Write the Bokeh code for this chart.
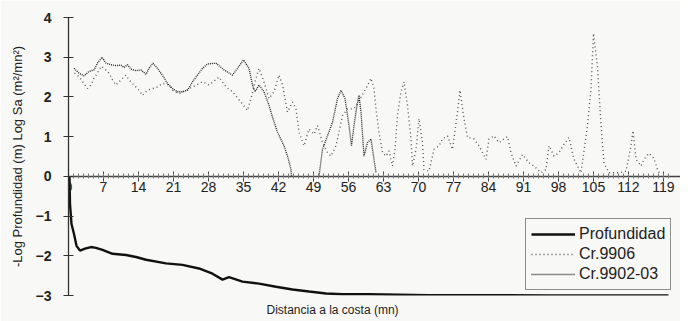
from bokeh.plotting import figure
from bokeh.models import Range1d, Legend, LegendItem, Title, FixedTicker
from bokeh.embed import file_html
from bokeh.resources import INLINE

nan = float("nan")

# Profundidad (-log depth)
dist_prof = [0.2, 0.3, 0.6, 1.1, 1.6, 2.3, 3.3, 4.5, 5.5, 6.8, 8.8, 11.5, 13.5, 15.5, 19.5,
             22.8, 26.1, 28.8, 30.8, 32.1, 34.8, 38.1, 41.5, 44.8, 48.1, 51.5, 54.8, 60.0,
             66.0, 72.0, 84.0, 96.0, 108.0, 120.0]
prof = [0.0, -0.7, -1.2, -1.45, -1.75, -1.87, -1.82, -1.78, -1.8, -1.85, -1.95, -1.98, -2.03,
        -2.1, -2.19, -2.23, -2.32, -2.45, -2.6, -2.54, -2.65, -2.7, -2.78, -2.85, -2.9, -2.95,
        -2.97, -2.97, -2.98, -2.99, -2.99, -3.0, -3.0, -3.0]

# Cr.9906 (Log Sa)
dist_9906 = [1.2, 2.2, 3.0, 3.8, 4.5, 5.1, 5.8, 6.5, 7.1, 8.1, 8.8, 9.5, 10.5, 11.5, 12.1, 13.1,
             14.1, 14.8, 15.8, 16.8, 17.8, 18.8, 20.1, 21.0, 22.1, 23.3, 24.8, 26.8, 28.1, 30.1,
             31.5, 32.8, 34.5, 35.8, 36.5, 37.5, 38.1, 39.1, 40.1, 41.1, 42.1, 42.8, 43.8, 44.8,
             45.5, 46.1, 47.1, 48.1, 49.1, 49.8, 50.8, 51.8, 52.5, 53.5, 54.8, 55.8, 57.1, 58.3,
             59.5, 60.5, 61.1, 61.5, 62.1, 62.8, 63.5, 64.1, 64.8, 65.3, 65.8, 66.5, 67.1, 67.8,
             68.5, 68.8, 69.5, 70.1, 70.8, 71.1, 72.1, 73.1, 74.1, 74.8, 75.8, 76.8, 77.8, 78.3,
             79.1, 79.8, 81.1, 82.1, 83.5, 84.1, 85.1, 86.1, 87.8, 88.5, 89.5, 90.8, 92.1, 93.1,
             94.5, 95.5, 96.1, 97.1, 98.1, 99.1, 100.1, 101.1, 102.5, 103.8, 104.5, 105.0, 105.8,
             106.5, 107.1, 108.1, 110.1, 111.5, 112.5, 112.9, 113.5, 114.5, 115.1, 116.1, 117.1,
             117.8, 118.3]
sa_9906 = [2.6, 2.5, 2.35, 2.21, 2.3, 2.47, 2.6, 2.77, 2.72, 2.6, 2.43, 2.3, 2.43, 2.55, 2.43,
           2.3, 2.17, 2.04, 2.17, 2.21, 2.25, 2.34, 2.3, 2.15, 2.08, 2.15, 2.25, 2.38, 2.3, 2.5,
           2.25, 2.13, 1.87, 1.66, 1.96, 2.47, 2.72, 2.38, 1.96, 2.13, 2.55, 2.3, 1.62, 1.87,
           1.7, 1.11, 0.77, 1.19, 1.06, 1.28, 0.85, 0.6, 0.51, 0.77, 1.53, 1.7, 1.7, 1.95,
           2.21, 2.47, 2.21, 1.7, 1.11, 0.6, 0.51, 0.64, 0.26, 0.68, 1.53, 2.13, 2.38, 1.79,
           0.94, 0.26, 0.68, 1.45, 0.85, 0.17, 0.13, 0.68, 0.77, 0.94, 1.02, 0.68, 1.62, 2.17,
           1.45, 0.98, 0.94, 0.77, 0.43, 0.94, 1.02, 0.85, 1.0, 0.6, 0.26, 0.55, 0.34, 0.26,
           0.09, 0.17, 0.77, 0.51, 0.6, 0.81, 0.98, 0.43, 0.09, 1.28, 2.2, 3.6, 2.75,
           1.3, 0.34, 0.09, 0.09, 0.13, 0.77, 1.15, 0.43, 0.26, 0.43, 0.58, 0.45,
           0.17, 0.05]

# Cr.9902-03 (Log Sa)
dist_9902 = [1.1, 2.1, 3.1, 4.1, 5.1, 5.8, 6.7, 7.5, 8.5, 9.5, 10.5, 11.1, 11.8, 12.5, 13.5, 14.5,
             15.5, 16.1, 16.9, 17.8, 18.8, 19.8, 20.8, 21.8, 22.8, 23.8, 24.8, 25.8, 26.8, 27.8,
             29.5, 31.1, 32.8, 33.8, 35.0, 36.1, 36.8, 37.3, 38.1, 39.1, 40.1, 40.8, 41.8, 43.1,
             43.8, 44.5, 44.6, 47.0, 50.1, 50.8, 51.8, 52.8, 53.8, 54.5, 55.3, 56.1, 56.6, 57.1,
             57.7, 58.1, 58.5, 59.1, 59.8, 60.5, 60.9, 61.5]
sa_9902 = [2.72, 2.6, 2.53, 2.64, 2.68, 2.85, 3.0, 2.85, 2.81, 2.79, 2.8, 2.74, 2.81, 2.7, 2.66,
           2.68, 2.57, 2.72, 2.85, 2.72, 2.54, 2.34, 2.21, 2.13, 2.13, 2.17, 2.38, 2.55, 2.72,
           2.83, 2.85, 2.68, 2.55, 2.72, 2.93, 2.72, 2.3, 2.13, 2.3, 2.13, 1.79, 1.49, 1.11, 0.77,
           0.51, 0.17, 0.0, nan, 0.0, 0.68, 1.02, 1.36, 1.96, 2.17, 1.96, 1.28, 0.77, 1.28,
           1.79, 2.04, 1.62, 0.51, 0.85, 0.94, 0.6, 0.09]

x_ticks = [0, 7, 14, 21, 28, 35, 42, 49, 56, 63, 70, 77, 84, 91, 98, 105, 112, 119]
y_ticks = [-3, -2, -1, 0, 1, 2, 3, 4]

FONT = "Liberation Sans"
BG = "#f8f8f6"

p = figure(width=680, height=321, output_backend="svg", toolbar_location=None,
           x_range=Range1d(0, 122.4), y_range=Range1d(-3, 4),
           min_border_left=68, min_border_right=0, min_border_top=17, min_border_bottom=22,
           background_fill_color=BG, border_fill_color=BG, outline_line_color=None)
p.grid.visible = False

r_prof = p.line(dist_prof, prof, line_color="#111111", line_width=2.4)
r_9906 = p.line(dist_9906, sa_9906, line_color="#555555", line_width=1.4, line_dash="1 3")
r_9902 = p.line(dist_9902, sa_9902, line_color="#1e1e1e", line_width=1.3, line_dash="1 1")

# x axis at y = 0
xa = p.xaxis[0]
xa.fixed_location = 0
xa.ticker = FixedTicker(ticks=x_ticks, minor_ticks=list(range(0, 121)))
xa.axis_line_color = "#444444"
xa.axis_line_width = 1.3
xa.major_tick_in = 5
xa.major_tick_out = 5
xa.minor_tick_in = 3
xa.minor_tick_out = 2
xa.major_tick_line_color = "#444444"
xa.minor_tick_line_color = "#777777"
xa.major_label_standoff = 1
xa.major_label_text_font = FONT
xa.major_label_text_font_size = "14px"
xa.major_label_text_color = "#222222"

ya = p.yaxis[0]
ya.ticker = FixedTicker(ticks=y_ticks)
ya.axis_line_color = "#333333"
ya.axis_line_width = 1.3
ya.major_tick_in = 5
ya.major_tick_out = 5
ya.minor_tick_line_color = None
ya.major_tick_line_color = "#333333"
ya.major_label_standoff = 12
ya.major_label_text_font = FONT
ya.major_label_text_font_size = "14px"
ya.major_label_text_font_style = "bold"
ya.major_label_text_color = "#222222"
ya.axis_label = "-Log Profundidad (m) Log Sa (m\u00b2/mn\u00b2)"
ya.axis_label_text_font = FONT
ya.axis_label_text_font_size = "13px"
ya.axis_label_text_font_style = "normal"
ya.axis_label_text_color = "#222222"
ya.axis_label_standoff = 8

t = Title(text="Distancia a la costa (mn)", align="left", offset=198,
          text_font=FONT, text_font_size="12px", text_font_style="normal",
          text_color="#222222", standoff=10)
p.add_layout(t, "below")

legend = Legend(items=[LegendItem(label="Profundidad", renderers=[r_prof]),
                       LegendItem(label="Cr.9906", renderers=[r_9906]),
                       LegendItem(label="Cr.9902-03", renderers=[r_9902])],
                location=(457, 5), orientation="vertical")
legend.label_text_font = FONT
legend.label_text_font_size = "16px"
legend.label_text_color = "#222222"
legend.glyph_width = 44
legend.glyph_height = 20
legend.label_height = 20
legend.label_standoff = 4
legend.spacing = 0
legend.padding = 5
legend.margin = 0
legend.border_line_color = "#222222"
legend.border_line_width = 1.5
legend.background_fill_color = BG
legend.background_fill_alpha = 1.0
p.add_layout(legend)

open("out.html", "w").write(file_html(p, INLINE))
